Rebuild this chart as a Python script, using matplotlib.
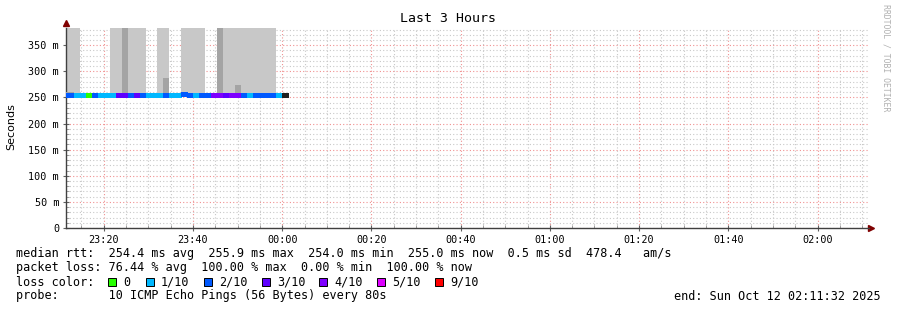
import matplotlib
matplotlib.use('Agg')
import matplotlib.pyplot as plt
import matplotlib.dates as mdates
from matplotlib.patches import Rectangle
from matplotlib.ticker import MultipleLocator, FuncFormatter
import numpy as np
import pandas as pd

# ---- data (80 s rrd steps) ----
bin_start = pd.Timestamp('2025-10-11 23:10:42')
step_s = 80
end_time = pd.Timestamp('2025-10-12 02:11:32')

median_ms = [254.6, 254.6, 254.2, 254.2, 254.4, 254.5, 254.3, 254.3, 254.2, 254.6,
             254.6, 254.4, 254.5, 254.4, 254.2, 254.2, 254.3, 254.6, 254.2, 254.1,
             255.9, 255.5, 254.3, 254.6, 254.6, 255.3, 255.3, 255.3, 255.5, 255.5,
             255.4, 255.2, 255.4, 255.4, 255.3, 255.3, 255.0, 255.0]
loss = [2, 2, 1, 1, 0, 2, 1, 1, 1, 3,
        3, 2, 3, 2, 1, 1, 1, 2, 1, 1,
        2, 2, 1, 2, 2, 4, 4, 3, 4, 4,
        2, 1, 2, 2, 2, 2, 1, 10]
nan = np.nan
smoke_light_ms = [383, 383, 383, nan, nan, nan, nan, nan, 383, 383,
                  383, 383, 383, 383, nan, nan, 383, 383, nan, nan,
                  383, 383, 383, 383, nan, nan, 383, 383, 383, 383,
                  383, 383, 383, 383, 383, 383, nan, nan]
smoke_dark_ms = [260, 260, nan, nan, nan, nan, nan, nan, nan, nan,
                 383, nan, nan, nan, nan, nan, nan, 287, nan, nan,
                 260, nan, nan, nan, nan, nan, 383, nan, nan, 274,
                 nan, nan, nan, nan, nan, nan, nan, nan]

loss_colors = {0: '#26ff00', 1: '#00b8ff', 2: '#0059ff', 3: '#5e00ff',
               4: '#7e00ff', 5: '#dd00ff', 9: '#ff0000', 10: '#202020'}
legend_loss = [0, 1, 2, 3, 4, 5, 9]
legend_labels = ['0', '1/10', '2/10', '3/10', '4/10', '5/10', '9/10']

stats_line = 'median rtt:  254.4 ms avg  255.9 ms max  254.0 ms min  255.0 ms now  0.5 ms sd  478.4   am/s'
loss_line = 'packet loss: 76.44 % avg  100.00 % max  0.00 % min  100.00 % now'
probe_line = 'probe:       10 ICMP Echo Pings (56 Bytes) every 80s'
end_line = 'end: Sun Oct 12 02:11:32 2025'

# ---- figure ----
W, H = 897, 310
mono = 'DejaVu Sans Mono'
fig = plt.figure(figsize=(W / 100, H / 100), dpi=100)
fig.patch.set_facecolor('white')
ax = fig.add_axes([66 / W, (H - 228) / H, (869 - 66) / W, 200 / H])

n = len(median_ms)
t = bin_start + pd.to_timedelta(np.arange(n) * step_s, unit='s')
tn = mdates.date2num(t.to_pydatetime())
w = step_s / 86400.0
med = np.array(median_ms)
light = np.array(smoke_light_ms, dtype=float)
dark = np.array(smoke_dark_ms, dtype=float)

ax.bar(tn, light - med, bottom=med, width=w, align='edge', color='#c8c8c8', lw=0, zorder=2)
ax.bar(tn, dark - med, bottom=med, width=w, align='edge', color='#a4a4a4', lw=0, zorder=3)
lc = ax.hlines(med, tn, tn + w, colors=[loss_colors[l] for l in loss], lw=2.2, zorder=4)
lc.set_capstyle('butt')
lc.set_antialiased(False)

start_time = end_time - pd.Timedelta(hours=3)
ax.set_xlim(mdates.date2num(start_time.to_pydatetime()), mdates.date2num(end_time.to_pydatetime()))
ax.set_ylim(0, 383)

ax.xaxis.set_major_locator(mdates.MinuteLocator(byminute=[0, 20, 40]))
ax.xaxis.set_minor_locator(mdates.MinuteLocator(byminute=range(0, 60, 5)))
ax.xaxis.set_major_formatter(mdates.DateFormatter('%H:%M'))
ax.yaxis.set_major_locator(MultipleLocator(50))
ax.yaxis.set_minor_locator(MultipleLocator(10))
ax.yaxis.set_major_formatter(FuncFormatter(lambda v, _: '0' if v == 0 else '%d m' % v))

ax.grid(which='minor', color='#c8c8c8', linestyle=(0, (1, 2)), lw=0.8, zorder=1)
ax.grid(which='major', color='#f09090', linestyle=(0, (1, 2)), lw=0.8, zorder=1)
ax.set_axisbelow(True)

for s in ['top', 'right']:
    ax.spines[s].set_visible(False)
for s in ['left', 'bottom']:
    ax.spines[s].set_color('#404040')
    ax.spines[s].set_linewidth(1)
ax.tick_params(which='major', direction='inout', length=4, width=0.8, color='#606060',
               labelsize=7.3, pad=3)
ax.tick_params(which='minor', direction='in', length=2, width=0.6, color='#909090')
for lab in ax.get_xticklabels() + ax.get_yticklabels():
    lab.set_fontfamily(mono)

# axis arrows
ax.plot([0], [1.025], marker='^', ms=5, color='#800000', transform=ax.transAxes, clip_on=False)
ax.plot([1.003], [0], marker='>', ms=5, color='#800000', transform=ax.transAxes, clip_on=False)

# ---- texts ----
def fx(x):
    return x / W

def fy(y):
    return 1 - y / H

fig.text(fx(448), fy(19), 'Last 3 Hours', family=mono, fontsize=9.5, ha='center', va='center')
fig.text(fx(11), fy(127), 'Seconds', fontsize=8, rotation=90, ha='center', va='center')
fig.text(fx(886), fy(4), 'RRDTOOL / TOBI OETIKER', family=mono, fontsize=5.9, color='#b0b0b0',
         rotation=270, ha='center', va='top')

fig.text(fx(16), fy(254), stats_line, family=mono, fontsize=8.5, va='center')
fig.text(fx(16), fy(268), loss_line, family=mono, fontsize=8.5, va='center')
fig.text(fx(16), fy(282), 'loss color:', family=mono, fontsize=8.5, va='center')
fig.text(fx(16), fy(296), probe_line, family=mono, fontsize=8.5, va='center')
fig.text(fx(881), fy(296), end_line, family=mono, fontsize=8.5, va='center', ha='right')

box_x = [108, 146, 204, 262, 319, 377, 435]
for bx, l, lab in zip(box_x, legend_loss, legend_labels):
    fig.add_artist(Rectangle((fx(bx), fy(286)), 8 / W, 8 / H, transform=fig.transFigure,
                             facecolor=loss_colors[l], edgecolor='black', lw=0.7))
    fig.text(fx(bx + 15), fy(282), lab, family=mono, fontsize=8.5, va='center')

fig.savefig('out.png', dpi=100)
